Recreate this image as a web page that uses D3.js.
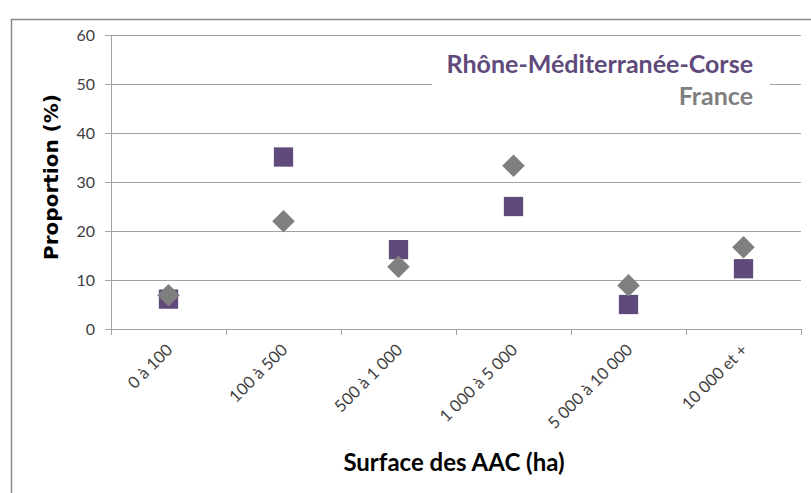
<!DOCTYPE html>
<html>
<head>
<meta charset="utf-8">
<script src="https://cdn.jsdelivr.net/npm/d3@7"></script>
<style>
  body { margin: 0; background: #fff; }
  svg { display: block; }
</style>
</head>
<body>
<div id="chart"></div>
<script>
// data
var categories = ['0 à 100', '100 à 500', '500 à 1 000', '1 000 à 5 000', '5 000 à 10 000', '10 000 et +'];
var rmcValues = [6.1, 35.1, 16.2, 25.0, 5.0, 12.3];
var franceValues = [6.9, 22.0, 12.7, 33.3, 8.9, 16.7];
var yTicks = [0, 10, 20, 30, 40, 50, 60];
var seriesNames = ['Rhône-Méditerranée-Corse', 'France'];

var width = 811, height = 493;
var purple = '#604a7b', grey = '#7f7f7f', gridCol = '#a3a3a3';
var font = 'Lato, "Open Sans", sans-serif';

var svg = d3.select('#chart').append('svg')
	.attr('width', width)
	.attr('height', height);

// outer chart frame (cut off at right / bottom)
svg.append('rect')
	.attr('x', 11.5).attr('y', 19.5)
	.attr('width', 900).attr('height', 600)
	.attr('fill', 'none')
	.attr('stroke', '#898989')
	.attr('stroke-width', 1.5);

var x = d3.scaleBand().domain(categories).range([111, 801]).padding(0);
var y = d3.scaleLinear().domain([0, 60]).range([329, 35]);

// gridlines + left ticks
var yAxis = svg.append('g')
	.attr('transform', 'translate(111,0)')
	.call(d3.axisLeft(y).tickValues(yTicks).tickSizeInner(6).tickSizeOuter(0).tickPadding(10));
yAxis.select('.domain').attr('stroke', gridCol);
yAxis.selectAll('.tick line').attr('stroke', gridCol);
yAxis.selectAll('.tick').append('line')
	.attr('x1', 0).attr('x2', 690)
	.attr('stroke', gridCol);
yAxis.selectAll('.tick text')
	.attr('font-family', font)
	.attr('font-size', 16)
	.attr('fill', '#404040');

// x axis ticks at band edges
var edges = categories.map(function (c) { return x(c); }).concat([x.range()[1]]);
svg.append('g').selectAll('line')
	.data(edges)
	.enter().append('line')
	.attr('x1', function (d) { return d + 0.5; })
	.attr('x2', function (d) { return d + 0.5; })
	.attr('y1', y(0)).attr('y2', y(0) + 6)
	.attr('stroke', gridCol);

// rotated category labels
svg.append('g').selectAll('text')
	.data(categories)
	.enter().append('text')
	.attr('transform', function (d) {
		return 'translate(' + (x(d) + x.bandwidth() / 2 + 5) + ',' + (y(0) + 22) + ') rotate(-45)';
	})
	.attr('text-anchor', 'end')
	.attr('font-family', font)
	.attr('font-size', 16.5)
	.attr('fill', '#404040')
	.text(function (d) { return d; });

// legend background hides the 50 gridline
svg.append('rect')
	.attr('x', 432).attr('y', 44)
	.attr('width', 338).attr('height', 72)
	.attr('fill', '#fff');

svg.append('text')
	.attr('x', 753).attr('y', 73)
	.attr('text-anchor', 'end')
	.attr('font-family', font)
	.attr('font-weight', 'bold')
	.attr('font-size', 25)
	.attr('fill', purple)
	.text(seriesNames[0]);
svg.append('text')
	.attr('x', 753).attr('y', 105)
	.attr('text-anchor', 'end')
	.attr('font-family', font)
	.attr('font-weight', 'bold')
	.attr('font-size', 25)
	.attr('fill', grey)
	.text(seriesNames[1]);

// series 1: squares
var sq = d3.symbol().type(d3.symbolSquare).size(372);
svg.append('g').selectAll('path')
	.data(rmcValues)
	.enter().append('path')
	.attr('d', sq)
	.attr('transform', function (d, i) {
		return 'translate(' + (x(categories[i]) + x.bandwidth() / 2) + ',' + y(d) + ')';
	})
	.attr('fill', purple);

// series 2: diamonds (rotated squares)
var dm = d3.symbol().type(d3.symbolSquare).size(255);
svg.append('g').selectAll('path')
	.data(franceValues)
	.enter().append('path')
	.attr('d', dm)
	.attr('transform', function (d, i) {
		return 'translate(' + (x(categories[i]) + x.bandwidth() / 2) + ',' + y(d) + ') rotate(45)';
	})
	.attr('fill', grey);

// axis titles
svg.append('text')
	.attr('transform', 'translate(58,177) rotate(-90)')
	.attr('text-anchor', 'middle')
	.attr('font-family', '"DejaVu Sans", sans-serif')
	.attr('font-weight', 'bold')
	.attr('font-size', 20)
	.attr('fill', '#000')
	.text('Proportion (%)');

svg.append('text')
	.attr('x', 454).attr('y', 471)
	.attr('text-anchor', 'middle')
	.attr('font-family', font)
	.attr('font-weight', 'bold')
	.attr('font-size', 24)
	.attr('fill', '#000')
	.text('Surface des AAC (ha)');
</script>
</body>
</html>
